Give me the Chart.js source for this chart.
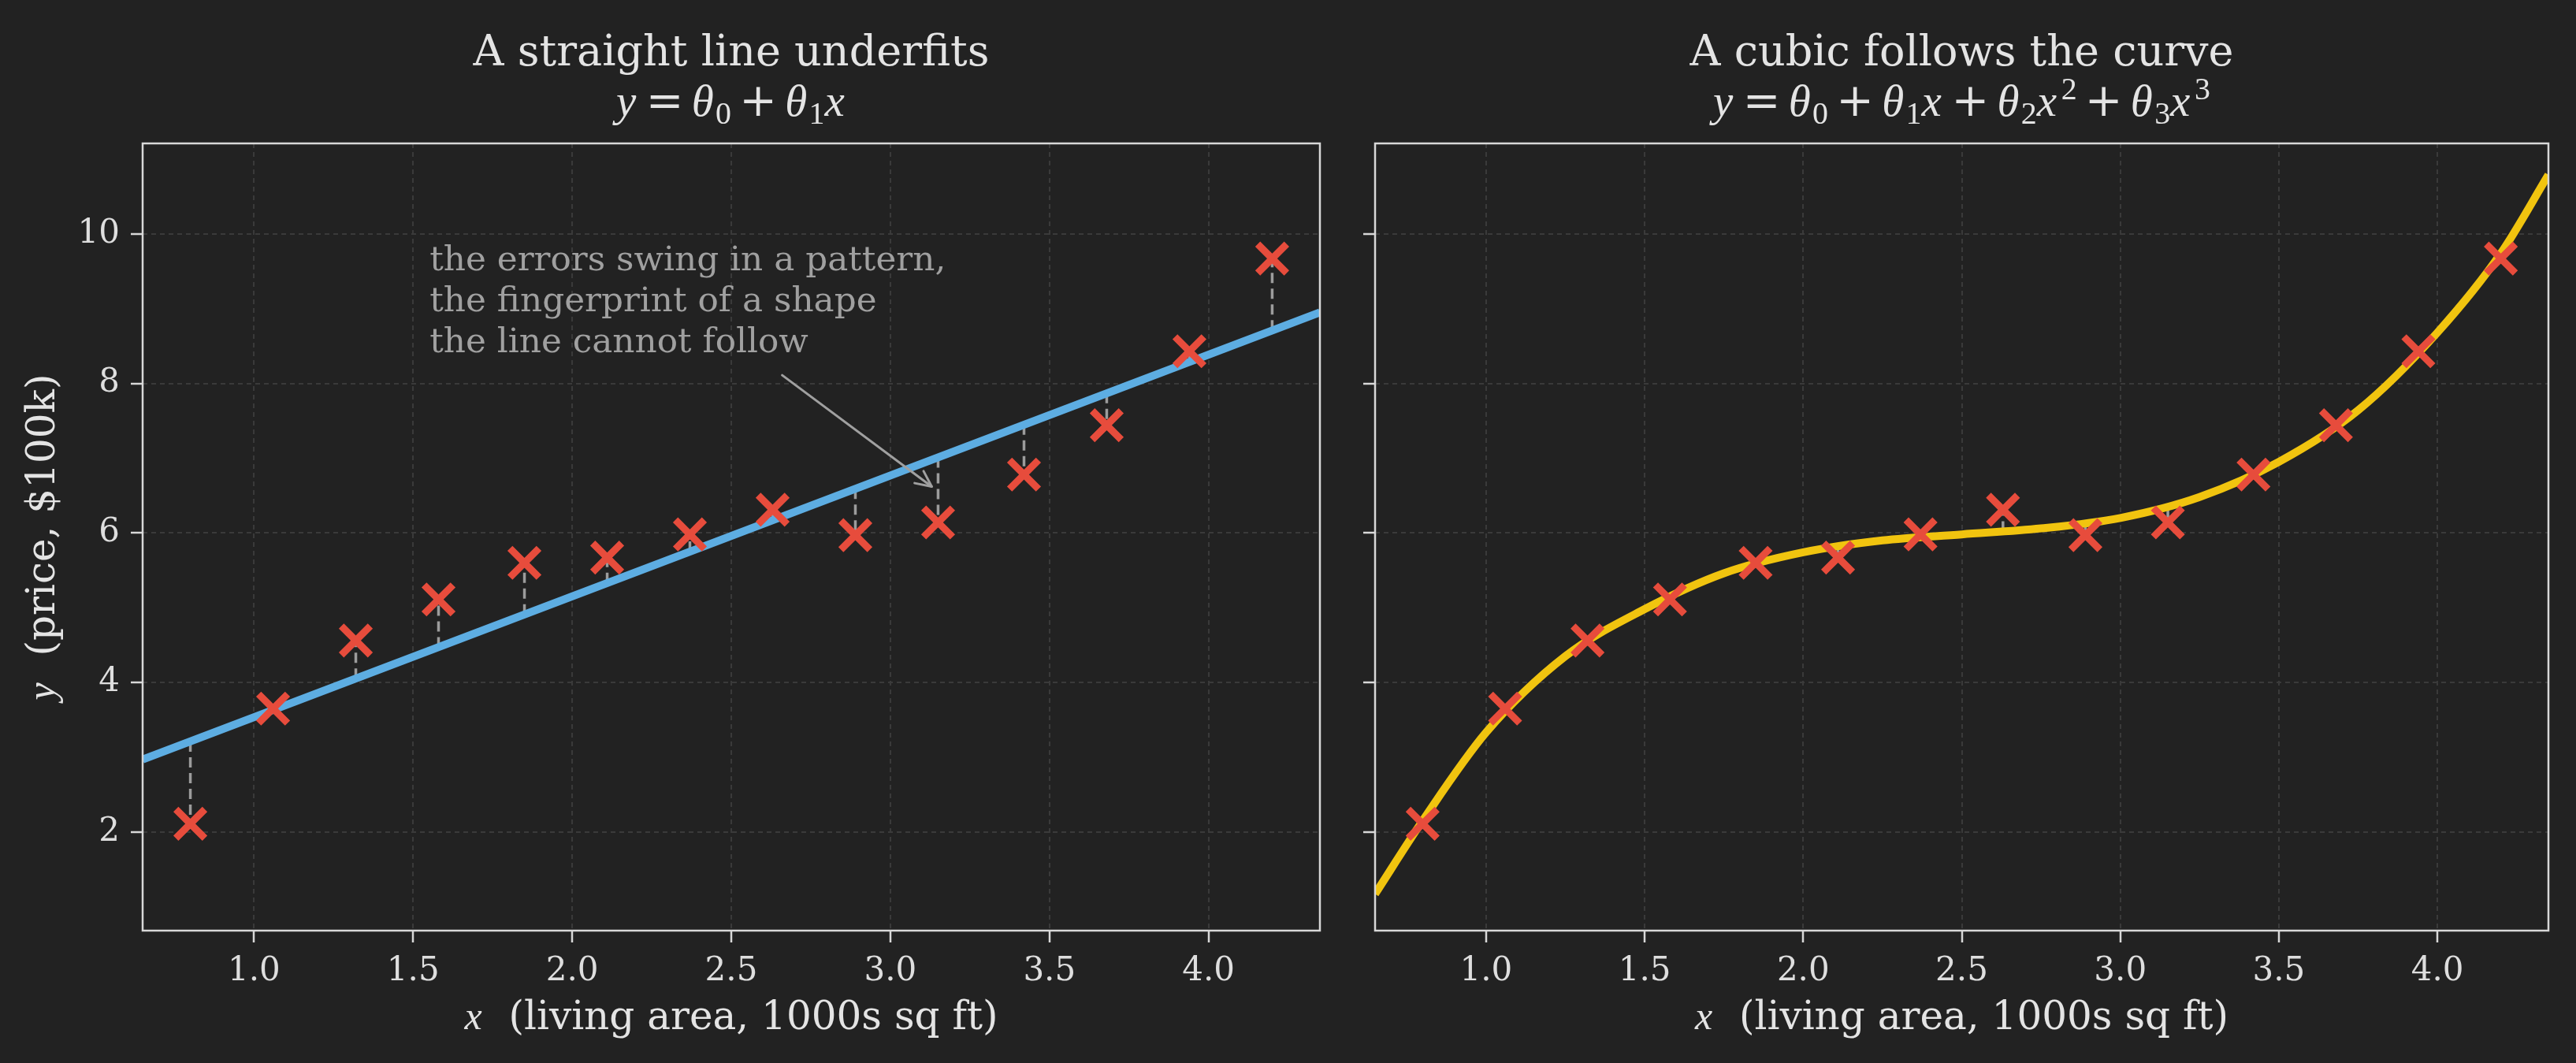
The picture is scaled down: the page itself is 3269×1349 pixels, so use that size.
<!DOCTYPE html>
<html>
<head>
<meta charset="utf-8">
<script src="https://cdn.jsdelivr.net/npm/chart.js@4.4.1/dist/chart.umd.min.js"></script>
<style>
html,body{margin:0;padding:0;background:#222222;overflow:hidden;}
#wrap{position:relative;width:3269px;height:1349px;background:#222222;}
.box{position:absolute;top:0;height:1349px;}
#b1{left:0;width:1710px;}
#b2{left:1710px;width:1559px;}
canvas{display:block;}
</style>
</head>
<body>
<div id="wrap">
  <div class="box" id="b1"><canvas id="c1" width="1710" height="1349" style="width:1710px;height:1349px"></canvas></div>
  <div class="box" id="b2"><canvas id="c2" width="1559" height="1349" style="width:1559px;height:1349px"></canvas></div>
</div>
<script>
// ---------------- data ----------------
const xData     = [0.80, 1.06, 1.32, 1.58, 1.85, 2.11, 2.37, 2.63, 2.89, 3.15, 3.42, 3.68, 3.94, 4.20];
const yData     = [2.11, 3.65, 4.56, 5.11, 5.60, 5.67, 5.98, 6.31, 5.97, 6.14, 6.78, 7.44, 8.43, 9.67];
// straight-line fit: value under each point, and the line's ends at the axis edges
const linearFit = [3.21, 3.63, 4.05, 4.47, 4.91, 5.33, 5.75, 6.17, 6.59, 7.01, 7.45, 7.87, 8.29, 8.71];
const lineX     = [0.65, 4.35];
const lineY     = [2.97, 8.95];
// cubic fit: value under each point, and samples along the curve
const cubicFit  = [2.15, 3.63, 4.55, 5.15, 5.61, 5.82, 5.94, 6.02, 6.14, 6.33, 6.77, 7.43, 8.41, 9.74];
const curveX    = [0.65, 0.80, 1.00, 1.25, 1.50, 1.75, 2.00, 2.25, 2.50, 2.75, 3.00, 3.25, 3.50, 3.75, 4.00, 4.20, 4.35];
const curveY    = [1.17, 2.15, 3.33, 4.35, 4.98, 5.46, 5.74, 5.90, 5.98, 6.06, 6.20, 6.48, 6.95, 7.64, 8.68, 9.74, 10.79];
// axes
const xTicks = [1.0, 1.5, 2.0, 2.5, 3.0, 3.5, 4.0];
const yTicks = [2, 4, 6, 8, 10];
const xRange = [0.65, 4.35];
const yRange = [0.68, 11.21];
// texts
const titles = ['A straight line underfits', 'A cubic follows the curve'];
const xLabelText = '  (living area, 1000s sq ft)';
const yLabelText = '  (price, $100k)';
const annoLines = ['the errors swing in a pattern,', 'the fingerprint of a shape', 'the line cannot follow'];
const annoAt = [1.552, 9.51];      // text anchor (data units, first baseline)
const arrowFrom = [2.66, 8.11];    // arrow tail (data units)
const arrowTo = [3.13, 6.62];      // arrow head (data units)

// ---------------- style ----------------
const BG = '#222222', TXT = '#e4e4e4', TICKTXT = '#dedede', SPINE = '#d8d8d8', GRID = '#3a3a3a';
const BLUE = '#5DADE2', YEL = '#F1C40F', RED = '#E74C3C', RESID = '#9c9c9c', ANNO = '#a0a0a0';
const SERIF = '"DejaVu Serif", serif';
const MATH = '"Liberation Serif", "DejaVu Serif", serif';

const mathLeft = [['y','i'],['=','op'],['θ','i'],['0','sub'],['+','op'],['θ','i'],['1','sub'],['x','i']];
const mathRight = [['y','i'],['=','op'],['θ','i'],['0','sub'],['+','op'],['θ','i'],['1','sub'],['x','i'],
                   ['+','op'],['θ','i'],['2','sub'],['x','i'],['2','sup'],['+','op'],['θ','i'],['3','sub'],['x','i'],['3','sup']];

function pts(xs, ys) { return xs.map((x, i) => ({x: x, y: ys[i]})); }
function segs(xs, ys, fit) {
  const out = [];
  xs.forEach((x, i) => { out.push({x: x, y: fit[i]}, {x: x, y: ys[i]}, {x: x, y: null}); });
  return out;
}

function drawRich(ctx, tokens, x, baseY, size, align) {
  const parts = tokens.map(([t, k]) => {
    let font, dy = 0, padL = 0, padR = 0;
    if (k === 'i') { font = `italic ${size}px ${MATH}`; padR = size * 0.04; }
    else if (k === 'op') { font = `${size}px ${SERIF}`; padL = padR = size * 0.18; }
    else if (k === 'sub') { font = `${size * 0.7}px ${MATH}`; dy = size * 0.18; }
    else if (k === 'sup') { font = `${size * 0.7}px ${MATH}`; dy = -size * 0.36; padL = size * 0.06; }
    else font = `${size}px ${SERIF}`;
    ctx.font = font;
    const w = ctx.measureText(t).width;
    return {t, font, dy, padL, padR, w};
  });
  const total = parts.reduce((s, p) => s + p.padL + p.w + p.padR, 0);
  let cx = align === 'center' ? x - total / 2 : x;
  ctx.textAlign = 'left';
  ctx.textBaseline = 'alphabetic';
  parts.forEach(p => {
    cx += p.padL;
    ctx.font = p.font;
    ctx.fillText(p.t, cx, baseY + p.dy);
    cx += p.w + p.padR;
  });
}

function deco(panel) {
  return {
    id: 'deco' + panel.idx,
    beforeDraw(chart) {
      const ctx = chart.ctx;
      ctx.save();
      ctx.fillStyle = BG;
      ctx.fillRect(0, 0, chart.width, chart.height);
      ctx.restore();
    },
    afterDatasetsDraw(chart) {
      const ctx = chart.ctx, a = chart.chartArea;
      const xs = chart.scales.x, ys = chart.scales.y;
      ctx.save();
      // spines
      ctx.strokeStyle = SPINE;
      ctx.lineWidth = 2.5;
      ctx.strokeRect(a.left, a.top, a.right - a.left, a.bottom - a.top);
      // annotation
      if (panel.idx === 0) {
        ctx.fillStyle = ANNO;
        ctx.font = `43.75px ${SERIF}`;
        ctx.textAlign = 'left';
        ctx.textBaseline = 'alphabetic';
        const tx = xs.getPixelForValue(annoAt[0]);
        const ty = ys.getPixelForValue(annoAt[1]);
        annoLines.forEach((s, i) => ctx.fillText(s, tx, ty + i * 52));
        const x1 = xs.getPixelForValue(arrowFrom[0]), y1 = ys.getPixelForValue(arrowFrom[1]);
        const x2 = xs.getPixelForValue(arrowTo[0]), y2 = ys.getPixelForValue(arrowTo[1]);
        ctx.strokeStyle = ANNO;
        ctx.lineWidth = 3;
        ctx.lineCap = 'round';
        ctx.lineJoin = 'round';
        ctx.beginPath(); ctx.moveTo(x1, y1); ctx.lineTo(x2, y2); ctx.stroke();
        const ang = Math.atan2(y2 - y1, x2 - x1);
        const hl = 20, hw = 9.5;
        const bx = x2 - hl * Math.cos(ang), by = y2 - hl * Math.sin(ang);
        const px = -Math.sin(ang) * hw, py = Math.cos(ang) * hw;
        ctx.beginPath();
        ctx.moveTo(bx + px, by + py); ctx.lineTo(x2, y2); ctx.lineTo(bx - px, by - py);
        ctx.stroke();
      }
      ctx.restore();
    },
    afterDraw(chart) {
      const ctx = chart.ctx, a = chart.chartArea;
      const cx = (a.left + a.right) / 2;
      ctx.save();
      ctx.fillStyle = TXT;
      ctx.textAlign = 'center';
      ctx.textBaseline = 'alphabetic';
      ctx.font = `54px ${SERIF}`;
      ctx.fillText(titles[panel.idx], cx, 83);
      drawRich(ctx, panel.idx === 0 ? mathLeft : mathRight, cx, 147, 57, 'center');
      // x label
      drawRich(ctx, [['x', 'i'], [xLabelText, 'txt']], cx, 1306, 50, 'center');
      // y label
      if (panel.idx === 0) {
        ctx.save();
        ctx.translate(69, (a.top + a.bottom) / 2);
        ctx.rotate(-Math.PI / 2);
        drawRich(ctx, [['y', 'i'], [yLabelText, 'txt']], 0, 0, 50, 'center');
        ctx.restore();
      }
      ctx.restore();
    }
  };
}

function build(id, panel) {
  const left = panel.idx === 0;
  const datasets = [
    {
      type: 'line',
      data: left ? pts(lineX, lineY) : pts(curveX, curveY),
      borderColor: left ? BLUE : YEL,
      borderWidth: 10,
      pointRadius: 0,
      fill: false,
      cubicInterpolationMode: left ? 'default' : 'monotone',
      tension: 0,
      clip: 0,
      order: 2
    },
    {
      type: 'line',
      data: segs(xData, yData, left ? linearFit : cubicFit),
      borderColor: RESID,
      borderWidth: 3.5,
      borderDash: [13, 7],
      pointRadius: 0,
      spanGaps: false,
      fill: false,
      clip: 0,
      order: 3
    },
    {
      type: 'scatter',
      data: pts(xData, yData),
      pointStyle: 'crossRot',
      pointRadius: 26,
      pointBorderWidth: 9,
      pointBorderColor: RED,
      pointBackgroundColor: RED,
      borderColor: RED,
      backgroundColor: RED,
      showLine: false,
      clip: false,
      order: 1
    }
  ];
  const tickFont = {family: SERIF, size: 42};
  return new Chart(document.getElementById(id), {
    type: 'scatter',
    data: {datasets},
    options: {
      responsive: false,
      maintainAspectRatio: false,
      animation: false,
      devicePixelRatio: 1,
      events: [],
      layout: {padding: {top: 182, left: 0, bottom: 0, right: panel.padRight}},
      plugins: {legend: {display: false}, tooltip: {enabled: false}, title: {display: false}},
      scales: {
        x: {
          type: 'linear', min: xRange[0], max: xRange[1],
          afterBuildTicks: s => { s.ticks = xTicks.map(v => ({value: v})); },
          afterFit: s => { s.height = 168; },
          ticks: {callback: v => Number(v).toFixed(1), color: TICKTXT, font: tickFont, padding: 12,
                  maxRotation: 0, minRotation: 0, autoSkip: false},
          grid: {color: GRID, lineWidth: 2, drawTicks: true, tickLength: 15, tickWidth: 2.5,
                 tickColor: SPINE, tickBorderDash: []},
          border: {display: false, dash: [6, 5]}
        },
        y: {
          type: 'linear', min: yRange[0], max: yRange[1],
          afterBuildTicks: s => { s.ticks = yTicks.map(v => ({value: v})); },
          afterFit: s => { s.width = panel.yWidth; },
          ticks: {display: left, callback: v => String(v), color: TICKTXT, font: tickFont, padding: 14, autoSkip: false},
          grid: {color: GRID, lineWidth: 2, drawTicks: true, tickLength: 15, tickWidth: 2.5,
                 tickColor: SPINE, tickBorderDash: []},
          border: {display: false, dash: [6, 5]}
        }
      }
    },
    plugins: [deco(panel)]
  });
}

build('c1', {idx: 0, padRight: 29, yWidth: 181});
build('c2', {idx: 1, padRight: 31, yWidth: 30});
</script>
</body>
</html>
